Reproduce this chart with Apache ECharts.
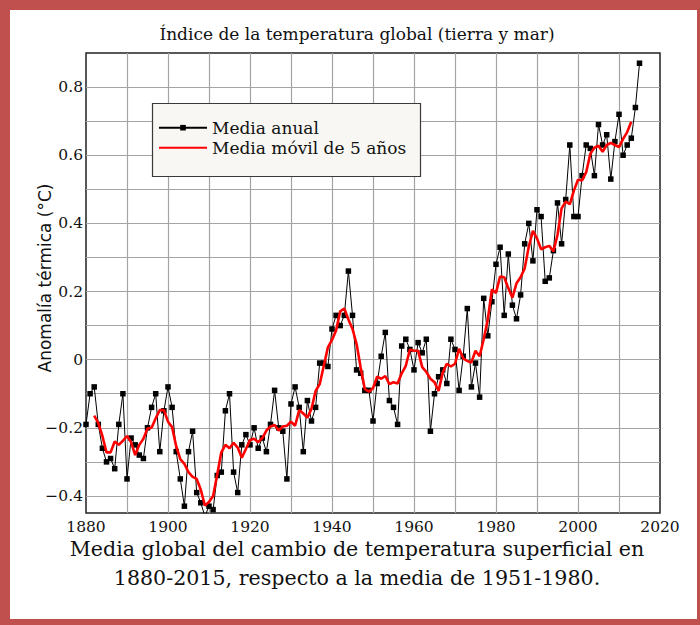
<!DOCTYPE html>
<html>
<head>
<meta charset="utf-8">
<script src="https://cdn.jsdelivr.net/npm/echarts@6/dist/echarts.min.js"></script>
<style>
html,body{margin:0;padding:0;background:#fff;}
#c{width:700px;height:625px;}
</style>
</head>
<body>
<div id="c"></div>
<script>
// ---- data ----
const annualFirstYear = 1880;
const annualMean = [
  -0.19,-0.10,-0.08,-0.19,-0.26,-0.30,-0.29,-0.32,-0.19,-0.10,
  -0.35,-0.23,-0.25,-0.28,-0.29,-0.20,-0.14,-0.10,-0.27,-0.15,
  -0.08,-0.14,-0.27,-0.35,-0.43,-0.27,-0.21,-0.39,-0.42,-0.46,
  -0.43,-0.44,-0.34,-0.33,-0.15,-0.10,-0.33,-0.39,-0.25,-0.22,
  -0.25,-0.20,-0.26,-0.23,-0.27,-0.19,-0.09,-0.20,-0.21,-0.35,
  -0.13,-0.08,-0.14,-0.27,-0.12,-0.18,-0.14,-0.01,-0.01,-0.02,
   0.09, 0.13, 0.10, 0.13, 0.26, 0.13,-0.03,-0.04,-0.09,-0.09,
  -0.18,-0.07, 0.01, 0.08,-0.12,-0.14,-0.19, 0.04, 0.06, 0.03,
  -0.03, 0.05, 0.02, 0.06,-0.21,-0.10,-0.05,-0.03,-0.07, 0.06,
   0.03,-0.09, 0.01, 0.15,-0.08,-0.01,-0.11, 0.18, 0.07, 0.17,
   0.28, 0.33, 0.13, 0.31, 0.16, 0.12, 0.19, 0.34, 0.40, 0.29,
   0.44, 0.42, 0.23, 0.24, 0.32, 0.46, 0.34, 0.47, 0.63, 0.42,
   0.42, 0.54, 0.63, 0.62, 0.54, 0.69, 0.63, 0.66, 0.53, 0.64,
   0.72, 0.60, 0.63, 0.65, 0.74, 0.87
];
const movingFirstYear = 1882;
const movingMean5 = [
                -0.164,-0.186,-0.224,-0.272,-0.272,-0.240,-0.250,-0.238,
  -0.224,-0.242,-0.280,-0.250,-0.232,-0.202,-0.200,-0.172,-0.148,-0.148,
  -0.182,-0.198,-0.254,-0.292,-0.306,-0.330,-0.344,-0.350,-0.382,-0.428,
  -0.418,-0.400,-0.338,-0.272,-0.250,-0.260,-0.244,-0.258,-0.288,-0.262,
  -0.236,-0.232,-0.242,-0.230,-0.208,-0.196,-0.192,-0.208,-0.196,-0.194,
  -0.182,-0.194,-0.148,-0.158,-0.170,-0.144,-0.092,-0.072,-0.018, 0.036,
   0.058, 0.086, 0.142, 0.150, 0.118, 0.090, 0.046,-0.024,-0.086,-0.094,
  -0.084,-0.050,-0.056,-0.048,-0.072,-0.066,-0.070,-0.040,-0.018, 0.030,
   0.026, 0.026,-0.022,-0.036,-0.056,-0.066,-0.092,-0.038,-0.012,-0.020,
  -0.012, 0.032, 0.004,-0.004,-0.008, 0.026, 0.010, 0.060, 0.118, 0.206,
   0.196, 0.244, 0.242, 0.210, 0.182, 0.224, 0.242, 0.268, 0.332, 0.378,
   0.356, 0.324, 0.330, 0.334, 0.318, 0.366, 0.444, 0.464, 0.456, 0.496,
   0.528, 0.526, 0.550, 0.604, 0.622, 0.628, 0.610, 0.630, 0.636, 0.630,
   0.624, 0.648, 0.668, 0.698
];
const xTickLabels = [1880, 1900, 1920, 1940, 1960, 1980, 2000, 2020];
const yTickLabels = [-0.4, -0.2, 0, 0.2, 0.4, 0.6, 0.8];
const seriesNames = ['Media anual', 'Media móvil de 5 años'];
const titleText = 'Índice de la temperatura global (tierra y mar)';
const yAxisTitle = 'Anomalía térmica (°C)';
const captionLines = [
  'Media global del cambio de temperatura superficial en',
  '1880-2015, respecto a la media de 1951-1980.'
];

// ---- chart ----
const serif = '"DejaVu Serif", serif';
const sans = '"DejaVu Sans", sans-serif';
const annualData = annualMean.map((v, i) => [annualFirstYear + i, v]);
const movingData = movingMean5.map((v, i) => [movingFirstYear + i, v]);

function fmtY(v) {
  const n = Math.round(v * 100);
  const hit = yTickLabels.some(t => Math.round(t * 100) === n);
  if (!hit) return '';
  if (n === 0) return '0';
  return (n < 0 ? '\u2212' : '') + (Math.abs(n) / 100).toFixed(1);
}
function fmtX(v) {
  return xTickLabels.indexOf(Math.round(v)) >= 0 ? String(Math.round(v)) : '';
}

const red = '#c0504d';
const chart = echarts.init(document.getElementById('c'), null, {renderer: 'svg'});
chart.setOption({
  animation: false,
  backgroundColor: '#ffffff',
  grid: {
    left: 86, top: 53, width: 574, height: 460,
    show: true, borderColor: '#222', borderWidth: 1.5, backgroundColor: 'rgba(0,0,0,0)'
  },
  xAxis: {
    type: 'value', min: 1880, max: 2020, interval: 10,
    axisLine: {show: false}, axisTick: {show: false},
    axisLabel: {formatter: fmtX, fontFamily: serif, fontSize: 15.5, color: '#111', margin: 6},
    splitLine: {show: true, showMinLine: false, showMaxLine: false,
      lineStyle: {color: '#a4a4a4', width: 1.2}}
  },
  yAxis: {
    type: 'value', min: -0.45, max: 0.9, interval: 0.05,
    axisLine: {show: false}, axisTick: {show: false},
    axisLabel: {formatter: fmtY, fontFamily: serif, fontSize: 15.5, color: '#111', margin: 3},
    splitLine: {show: true, showMaxLine: false,
      lineStyle: {color: ['rgba(0,0,0,0)', '#a4a4a4'], width: 1.2}},
    name: yAxisTitle, nameLocation: 'middle', nameGap: 33, nameMoveOverlap: false,
    nameTextStyle: {fontFamily: sans, fontSize: 17, color: '#111', padding: [0, 0, 0, 10]}
  },
  legend: {
    orient: 'vertical', left: 158, top: 117.7, padding: 0, itemGap: 0,
    itemWidth: 48, itemHeight: 7,
    textStyle: {fontFamily: serif, fontSize: 17, color: '#111', lineHeight: 20},
    data: [
      {name: seriesNames[0]},
      {name: seriesNames[1], itemStyle: {opacity: 0}}
    ],
    z: 6
  },
  series: [
    {
      type: 'line', name: seriesNames[0], data: annualData,
      symbol: 'rect', symbolSize: 5.5, showAllSymbol: true,
      lineStyle: {color: '#000', width: 1}, itemStyle: {color: '#000'}, z: 2
    },
    {
      type: 'line', name: seriesNames[1], data: movingData,
      symbol: 'none', lineStyle: {color: '#ff0000', width: 2.6},
      itemStyle: {color: '#ff0000'}, z: 3
    }
  ],
  graphic: [
    {type: 'rect', z: 4, shape: {x: 152.5, y: 103.5, width: 268, height: 73},
      style: {fill: '#f8f7f3', stroke: '#3a3a3a', lineWidth: 1.2}},
    {type: 'text', z: 5, style: {text: titleText, x: 357, y: 33.5, textAlign: 'center',
      textVerticalAlign: 'middle', font: '17px ' + serif, fill: '#111'}},
    {type: 'text', z: 5, style: {text: captionLines[0], x: 357, y: 549, textAlign: 'center',
      textVerticalAlign: 'middle', font: '20.6px ' + serif, fill: '#111'}},
    {type: 'text', z: 5, style: {text: captionLines[1], x: 357, y: 578, textAlign: 'center',
      textVerticalAlign: 'middle', font: '20.6px ' + serif, fill: '#111'}},
    {type: 'rect', z: 10, shape: {x: 0, y: 0, width: 700, height: 10}, style: {fill: red}},
    {type: 'rect', z: 10, shape: {x: 0, y: 0, width: 10, height: 625}, style: {fill: red}},
    {type: 'rect', z: 10, shape: {x: 697, y: 0, width: 3, height: 625}, style: {fill: red}},
    {type: 'rect', z: 10, shape: {x: 0, y: 619, width: 700, height: 6}, style: {fill: red}}
  ]
});
</script>
</body>
</html>
